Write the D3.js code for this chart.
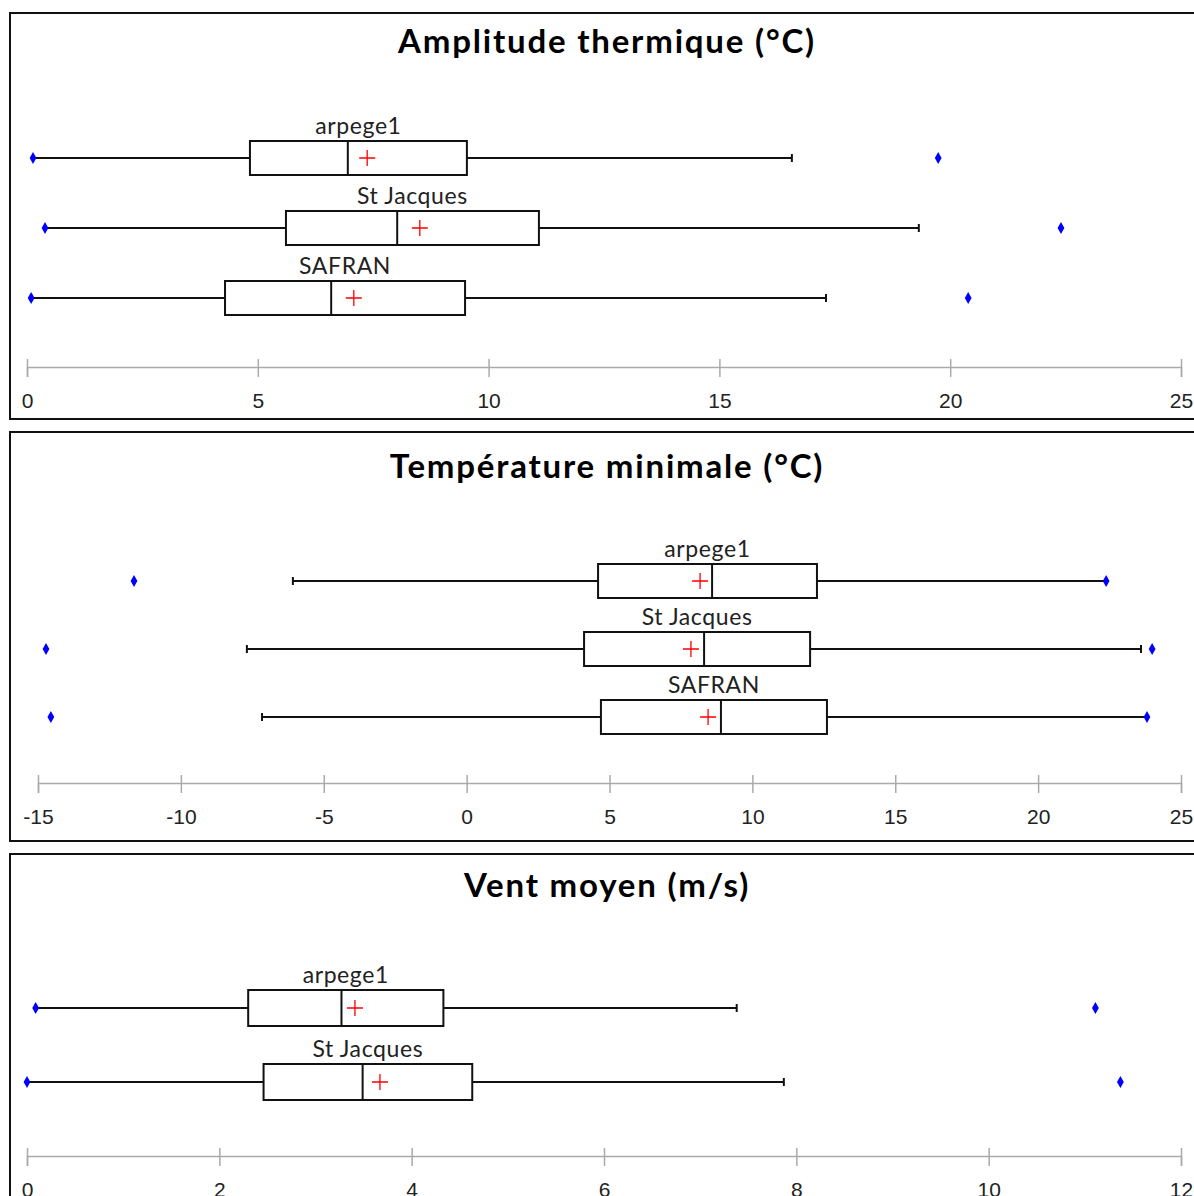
<!DOCTYPE html>
<html>
<head>
<meta charset="utf-8">
<script src="https://cdn.jsdelivr.net/npm/d3@7"></script>
<style>
  body { margin: 0; background: #fff; }
  svg { display: block; font-family: Lato, "Open Sans", sans-serif; }
</style>
</head>
<body>
<svg width="1194" height="1196"></svg>
<script>
// stats: min/max = blue dots, lo/hi = whisker ends
var amplitude = [
  {name: "arpege1",    min: 0.13,  lo: 0.13,  q1: 4.83, med: 6.95, q3: 9.53,  hi: 16.57, max: 19.74, mean: 7.37},
  {name: "St Jacques", min: 0.39,  lo: 0.39,  q1: 5.61, med: 8.02, q3: 11.09, hi: 19.32, max: 22.40, mean: 8.51},
  {name: "SAFRAN",     min: 0.09,  lo: 0.09,  q1: 4.29, med: 6.59, q3: 9.49,  hi: 17.31, max: 20.39, mean: 7.08}
];
var tmin = [
  {name: "arpege1",    min: -11.64, lo: -6.08, q1: 4.60, med: 8.59, q3: 12.26, hi: 22.38, max: 22.38, mean: 8.17},
  {name: "St Jacques", min: -14.72, lo: -7.69, q1: 4.11, med: 8.31, q3: 12.02, hi: 23.60, max: 23.99, mean: 7.85},
  {name: "SAFRAN",     min: -14.55, lo: -7.16, q1: 4.70, med: 8.90, q3: 12.61, hi: 23.81, max: 23.81, mean: 8.45}
];
var vent = [
  {name: "arpege1",    min: 0.09, lo: 0.09, q1: 2.30, med: 3.27, q3: 4.33, hi: 7.38, max: 11.11, mean: 3.41},
  {name: "St Jacques", min: 0.00, lo: 0.00, q1: 2.46, med: 3.49, q3: 4.63, hi: 7.87, max: 11.37, mean: 3.67}
];

var titles  = ["Amplitude thermique (°C)", "Température minimale (°C)", "Vent moyen (m/s)"];
var domains = [[0, 25], [-15, 25], [0, 12]];
var ticks   = [d3.range(0, 26, 5), d3.range(-15, 26, 5), d3.range(0, 13, 2)];

var svg = d3.select("svg");

// layout of each panel (frame, title baseline, row range, axis line)
var panels = [
  {data: amplitude, top: 13,  bottom: 419,  titleY: 53,  rows: [158, 298],  axisY: 367,  left: 27, right: 1181, boxH: 34},
  {data: tmin,      top: 432, bottom: 841,  titleY: 478, rows: [581, 717],  axisY: 783,  left: 38, right: 1181, boxH: 34},
  {data: vent,      top: 854, bottom: 1210, titleY: 897, rows: [1008, 1082], axisY: 1156, left: 27, right: 1181, boxH: 36}
];

panels.forEach(function(p, i) {
  var g = svg.append("g");

  g.append("rect")
    .attr("x", 10)
    .attr("y", p.top)
    .attr("width", 1200)
    .attr("height", p.bottom - p.top)
    .attr("fill", "none")
    .attr("stroke", "#111")
    .attr("stroke-width", 2);

  g.append("text")
    .attr("x", 607)
    .attr("y", p.titleY)
    .attr("text-anchor", "middle")
    .attr("font-size", 33)
    .attr("font-weight", "bold")
    .attr("letter-spacing", 1.8)
    .attr("fill", "#000")
    .text(titles[i]);

  var x = d3.scaleLinear().domain(domains[i]).range([p.left, p.right]);
  var y = d3.scalePoint().domain(p.data.map(function(d) { return d.name; })).range(p.rows);

  var axis = d3.axisBottom(x).tickValues(ticks[i]).tickSizeOuter(0).tickSize(10).tickPadding(16)
    .tickFormat(d3.format("d"));
  var ax = g.append("g")
    .attr("transform", "translate(0," + p.axisY + ")")
    .call(axis);
  ax.select(".domain").attr("stroke", "#aaa").attr("stroke-width", 1.5);
  ax.selectAll(".tick line").attr("stroke", "#aaa").attr("stroke-width", 1.5).attr("y1", -8).attr("y2", 10);
  ax.selectAll(".tick text").attr("font-size", 21).attr("fill", "#222").text(function(d) { return d < 0 ? "-" + (-d) : d; });

  var row = g.selectAll(".row")
    .data(p.data)
    .enter().append("g")
    .attr("class", "row")
    .attr("transform", function(d) { return "translate(0," + y(d.name) + ")"; });

  var h = p.boxH / 2;

  // whisker
  row.append("line")
    .attr("x1", function(d) { return x(d.lo); })
    .attr("x2", function(d) { return x(d.hi); })
    .attr("stroke", "#111").attr("stroke-width", 2);
  row.selectAll(".cap")
    .data(function(d) { return [d.lo, d.hi]; })
    .enter().append("line")
    .attr("x1", function(v) { return x(v); })
    .attr("x2", function(v) { return x(v); })
    .attr("y1", -4).attr("y2", 4)
    .attr("stroke", "#111").attr("stroke-width", 2);

  // box
  row.append("rect")
    .attr("x", function(d) { return x(d.q1); })
    .attr("y", -h)
    .attr("width", function(d) { return x(d.q3) - x(d.q1); })
    .attr("height", p.boxH)
    .attr("fill", "#fff")
    .attr("stroke", "#111").attr("stroke-width", 2);

  row.append("line")
    .attr("x1", function(d) { return x(d.med); })
    .attr("x2", function(d) { return x(d.med); })
    .attr("y1", -h).attr("y2", h)
    .attr("stroke", "#111").attr("stroke-width", 2);

  // mean
  row.append("path")
    .attr("d", function(d) { var m = x(d.mean); return "M" + (m - 8) + ",0H" + (m + 8) + "M" + m + ",-8V8"; })
    .attr("stroke", "#f00").attr("stroke-width", 1.3).attr("fill", "none");

  // min / max markers
  row.selectAll(".dot")
    .data(function(d) { return [d.min, d.max]; })
    .enter().append("path")
    .attr("d", d3.symbol(d3.symbolDiamond, 40))
    .attr("transform", function(v) { return "translate(" + x(v) + ",0)"; })
    .attr("fill", "#00f");

  row.append("text")
    .attr("x", function(d) { return (x(d.q1) + x(d.q3)) / 2; })
    .attr("y", -h - 7)
    .attr("text-anchor", "middle")
    .attr("font-size", 23)
    .attr("letter-spacing", 0.6)
    .attr("fill", "#222")
    .text(function(d) { return d.name; });
});
</script>
</body>
</html>
